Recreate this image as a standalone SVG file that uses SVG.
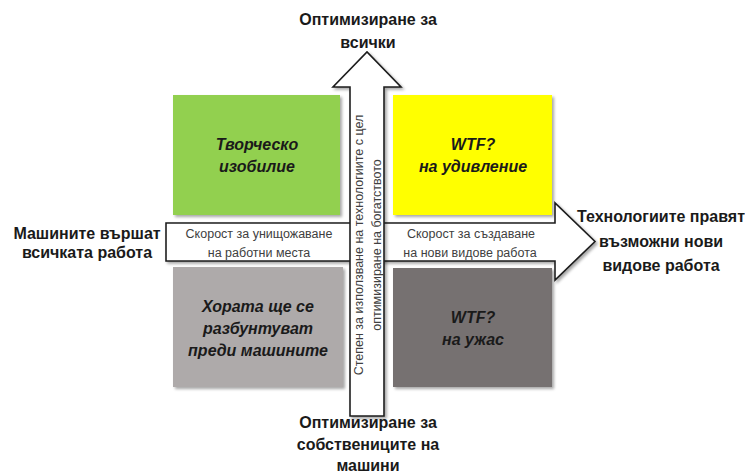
<svg xmlns="http://www.w3.org/2000/svg" width="745" height="476" viewBox="0 0 745 476">
<defs>
<filter id="sh" x="-10%" y="-10%" width="130%" height="130%">
<feGaussianBlur in="SourceAlpha" stdDeviation="1.5"/>
<feOffset dx="1.5" dy="1.5" result="b"/>
<feComponentTransfer><feFuncA type="linear" slope="0.35"/></feComponentTransfer>
<feMerge><feMergeNode/><feMergeNode in="SourceGraphic"/></feMerge>
</filter>
<style>
.box{filter:url(#sh);}
.arrow{fill:#ffffff;stroke:#1e1e1e;stroke-width:1.6;stroke-linejoin:miter;filter:url(#sh);}
.q{font-family:"Liberation Sans",Arial,sans-serif;font-weight:bold;font-style:italic;font-size:16px;fill:#1a1a1a;text-anchor:middle;}
.lbl{font-family:"Liberation Sans",Arial,sans-serif;font-weight:bold;font-size:16px;fill:#1a1a1a;text-anchor:middle;}
.ax{font-family:"Liberation Sans",Arial,sans-serif;font-size:12.5px;fill:#404040;text-anchor:middle;}
</style>
</defs>
<rect width="745" height="476" fill="#ffffff"/>

<g id="q-green"><rect class="box" x="173" y="95" width="167" height="120" fill="#92D050"/>
<text class="q" x="257" y="150">Творческо</text><text class="q" x="257" y="172">изобилие</text></g>
<g id="q-yellow"><rect class="box" x="393" y="95" width="159" height="120" fill="#FFFF00"/>
<text class="q" x="473" y="150">WTF?</text><text class="q" x="473" y="172">на удивление</text></g>
<g id="q-lightgray"><rect class="box" x="173" y="267" width="170" height="120" fill="#AEAAAA"/>
<text class="q" x="258" y="312">Хората ще се</text><text class="q" x="258" y="334">разбунтуват</text><text class="q" x="258" y="356">преди машините</text></g>
<g id="q-darkgray"><rect class="box" x="393" y="268" width="159" height="119" fill="#767171"/>
<text class="q" x="473" y="323">WTF?</text><text class="q" x="473" y="345">на ужас</text></g>

<g id="connectors">
<g id="h-arrow"><path class="arrow" d="M166,223 H555 V203 L595,241.5 L555,280 V261 H166 Z"/>
<text class="ax" x="259" y="238">Скорост за унищожаване</text>
<text class="ax" x="259" y="257">на работни места</text>
<text class="ax" x="471" y="238">Скорост за създаване</text>
<text class="ax" x="470" y="257">на нови видове работа</text></g>
<g id="v-arrow"><path class="arrow" d="M350,416 V87 H333 L367,52 L401,87 H384 V416 Z"/>
<text class="ax" transform="translate(363,245) rotate(-90)">Степен за използване на технологиите с цел</text>
<text class="ax" transform="translate(381,245) rotate(-90)">оптимизиране на богатството</text></g>
</g>

<g id="label-top"><text class="lbl" x="368" y="25">Оптимизиране за</text><text class="lbl" x="368" y="48">всички</text></g>
<g id="label-bottom"><text class="lbl" x="368" y="428">Оптимизиране за</text><text class="lbl" x="368" y="450">собствениците на</text><text class="lbl" x="368" y="471">машини</text></g>
<g id="label-left"><text class="lbl" x="87" y="239">Машините вършат</text><text class="lbl" x="87" y="258">всичката работа</text></g>
<g id="label-right"><text class="lbl" x="661" y="222">Технологиите правят</text><text class="lbl" x="661" y="247">възможни нови</text><text class="lbl" x="661" y="271">видове работа</text></g>
</svg>
